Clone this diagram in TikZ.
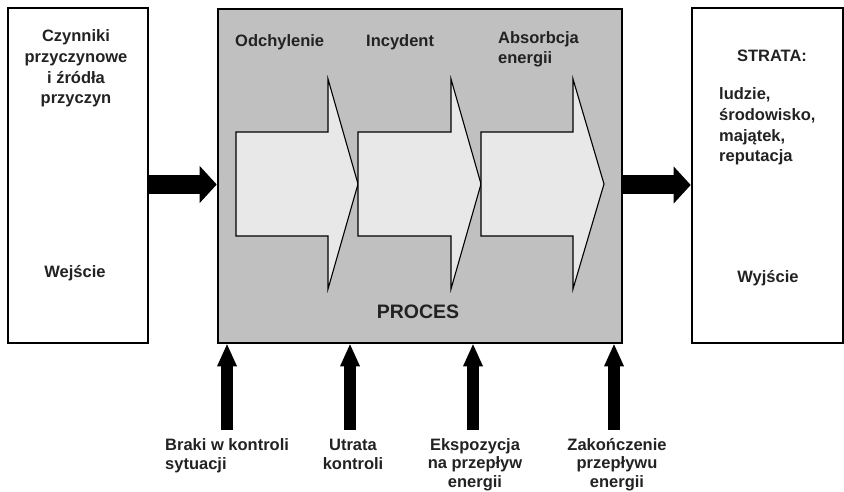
\documentclass[tikz,border=0pt]{standalone}
\usepackage{fontspec}
\setmainfont{Liberation Sans}
\usetikzlibrary{arrows.meta}
\definecolor{inkc}{HTML}{222222}
\definecolor{procfill}{HTML}{C0C0C0}
\definecolor{stepfill}{HTML}{E8E8E8}
\tikzset{
  frame/.style={draw=black, line width=2.6pt},
  lbl/.style={font=\bfseries\fontsize{16.5}{20.7}\selectfont, text=inkc, inner sep=0pt, anchor=base},
  lowlbl/.style={font=\bfseries\fontsize{16.5}{18.3}\selectfont, text=inkc, inner sep=0pt, anchor=base},
  fatarrow/.style={line width=19pt, -{Triangle[length=17pt, width=37pt, line width=0pt]}},
  uparrow/.style={line width=12pt, -{Triangle[length=22pt, width=20pt, line width=0pt]}},
  chevron/.style={draw=black, fill=stepfill, line width=1.1pt, line join=miter},
}
\begin{document}
\begin{tikzpicture}[x=1pt, y=-1pt]
\useasboundingbox (0,0) rectangle (844,492);

% three boxes: input, process, output
\node[frame, fill=white, minimum width=140pt, minimum height=335pt, inner sep=0pt] (inbox) at (78,175.5) {};
\node[frame, fill=procfill, minimum width=404pt, minimum height=334pt, inner sep=0pt] (proc) at (420,176) {};
\node[frame, fill=white, minimum width=151pt, minimum height=335pt, inner sep=0pt] (outbox) at (767.5,175.5) {};

% process stages
\draw[chevron] (236,132) -- (328,132) -- (328,79) -- (358,184) -- (328,289) -- (328,236) -- (236,236) -- cycle;
\draw[chevron] (358,132) -- (451,132) -- (451,79) -- (481,184) -- (451,289) -- (451,236) -- (358,236) -- cycle;
\draw[chevron] (481,132) -- (573,132) -- (573,79) -- (604,184) -- (573,289) -- (573,236) -- (481,236) -- cycle;

% texts of the input box (multi-line nodes sit on their last baseline)
\node[lbl, align=center] (causes) at (76,104) {Czynniki\\przyczynowe\\i źródła\\przyczyn};
\node[lbl] (wejscie) at (75,277) {Wejście};

% texts of the process box
\node[lbl, anchor=base west] (odch) at (235,47) {Odchylenie};
\node[lbl, anchor=base west] (incyd) at (366,47) {Incydent};
\node[lbl, anchor=base west, align=left] (absorb) at (498,64) {Absorbcja\\energii};
\node[lbl, font=\bfseries\fontsize{19.5}{23}\selectfont] (proclbl) at (418,318) {PROCES};

% texts of the output box
\node[lbl] (strata) at (772,62) {STRATA:};
\node[lbl, anchor=base west, align=left] (losses) at (719,162) {ludzie,\\środowisko,\\majątek,\\reputacja};
\node[lbl] (wyjscie) at (768,282) {Wyjście};

% input and output flows
\draw[fatarrow] (inbox.east |- 0,184.5) -- (proc.west |- 0,184.5);
\draw[fatarrow] (proc.east |- 0,185) -- (outbox.west |- 0,185);

% labels under the process
\node[lowlbl, anchor=base west, align=left] (brak) at (165,469) {Braki w kontroli\\sytuacji};
\node[lowlbl, align=center] (utrata) at (353,469) {Utrata\\kontroli};
\node[lowlbl, align=center] (ekspo) at (475,487) {Ekspozycja\\na przepływ\\energii};
\node[lowlbl, align=center] (zakon) at (617,487) {Zakończenie\\przepływu\\energii};

% arrow feet
\coordinate (f1) at (227,430);
\coordinate (f2) at (350,430);
\coordinate (f3) at (473,430);
\coordinate (f4) at (614,430);

\draw[uparrow] (f1) -- (f1 |- proc.south);
\draw[uparrow] (f2) -- (f2 |- proc.south);
\draw[uparrow] (f3) -- (f3 |- proc.south);
\draw[uparrow] (f4) -- (f4 |- proc.south);
\end{tikzpicture}
\end{document}
